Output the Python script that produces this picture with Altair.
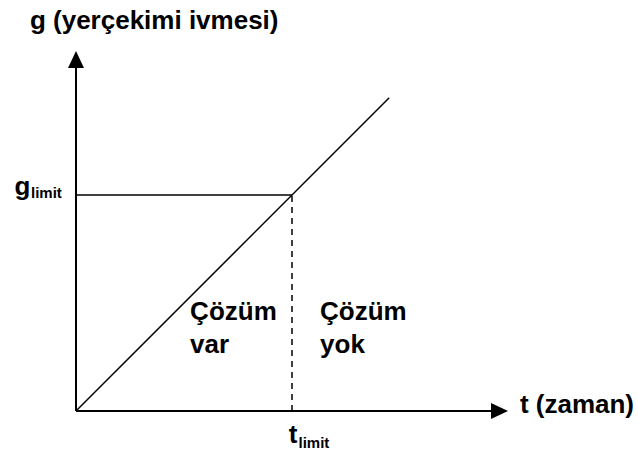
import altair as alt
import pandas as pd

# Key quantities of the sketch (arbitrary units, g grows linearly with t)
t_limit = 6.0
g_limit = 6.0
t_axis_end = 12.0
g_axis_end = 10.0
line_end = 8.7
head = 0.47  # arrow head length along the axis

# Region labels
region_words = ["Çözüm", "var", "Çözüm", "yok"]
region_t = [3.17, 3.17, 6.78, 6.78]
region_g = [2.53, 1.61, 2.53, 1.61]

W, H = 638, 453
xs = alt.Scale(domain=[-2.111, 15.611], nice=False, zero=False)
ys = alt.Scale(domain=[-1.167, 11.417], nice=False, zero=False)
FONT = "Arial, Liberation Sans, sans-serif"
BIG = 26


def seg(t0, g0, t1, g1, **mark):
    df = pd.DataFrame({"t0": [t0], "g0": [g0], "t1": [t1], "g1": [g1]})
    return alt.Chart(df).mark_rule(color="black", **mark).encode(
        x=alt.X("t0:Q", scale=xs, axis=None),
        y=alt.Y("g0:Q", scale=ys, axis=None),
        x2="t1:Q",
        y2="g1:Q",
    )


def label(text, t, g, size=BIG, align="left"):
    df = pd.DataFrame({"t": [t], "g": [g], "txt": [text]})
    return alt.Chart(df).mark_text(
        font=FONT, fontWeight="bold", fontSize=size, align=align,
        baseline="alphabetic", color="black",
    ).encode(
        x=alt.X("t:Q", scale=xs, axis=None),
        y=alt.Y("g:Q", scale=ys, axis=None),
        text="txt:N",
    )


def arrow_head(t, g, path):
    df = pd.DataFrame({"t": [t], "g": [g]})
    return alt.Chart(df).mark_point(
        shape=path, size=289, filled=True, fill="black", stroke=None, opacity=1,
    ).encode(
        x=alt.X("t:Q", scale=xs, axis=None),
        y=alt.Y("g:Q", scale=ys, axis=None),
    )


# axes with arrow heads
x_axis = seg(0, 0, t_axis_end - head, 0, strokeWidth=2)
g_axis = seg(0, 0, 0, g_axis_end - head, strokeWidth=2)
x_head = arrow_head(t_axis_end, 0, "M0,0L-2,-0.94L-2,0.94Z")
g_head = arrow_head(0, g_axis_end, "M0,0L0.94,2L-0.94,2Z")

# g = t line, limit level and limit time
diag = seg(0, 0, line_end, line_end, strokeWidth=1.5)
g_level = seg(0, g_limit, t_limit, g_limit, strokeWidth=1.5)
t_mark = seg(t_limit, 0, t_limit, g_limit, strokeWidth=1.5, strokeDash=[6, 5])

regions = alt.Chart(pd.DataFrame({"t": region_t, "g": region_g, "txt": region_words})).mark_text(
    font=FONT, fontWeight="bold", fontSize=BIG, align="left", baseline="alphabetic", color="black"
).encode(
    x=alt.X("t:Q", scale=xs, axis=None),
    y=alt.Y("g:Q", scale=ys, axis=None),
    text="txt:N",
)

texts = [
    label("g (yerçekimi ivmesi)", -1.28, 10.61),
    label("g", -1.27, g_limit, align="right"),
    label("limit", -1.25, g_limit - 0.08, size=15),
    label("t", t_limit + 0.15, -0.89, align="right"),
    label("limit", t_limit + 0.18, -1.03, size=15),
    label("t (zaman)", 12.33, -0.06),
]

chart = alt.layer(
    x_axis, g_axis, x_head, g_head, diag, g_level, t_mark, regions, *texts
).properties(
    width=W, height=H, padding=0, autosize=alt.AutoSizeParams(type="none"),
    background="white",
).configure_view(stroke=None)

chart.save("out.html", embed_options={"renderer": "svg", "actions": False})
